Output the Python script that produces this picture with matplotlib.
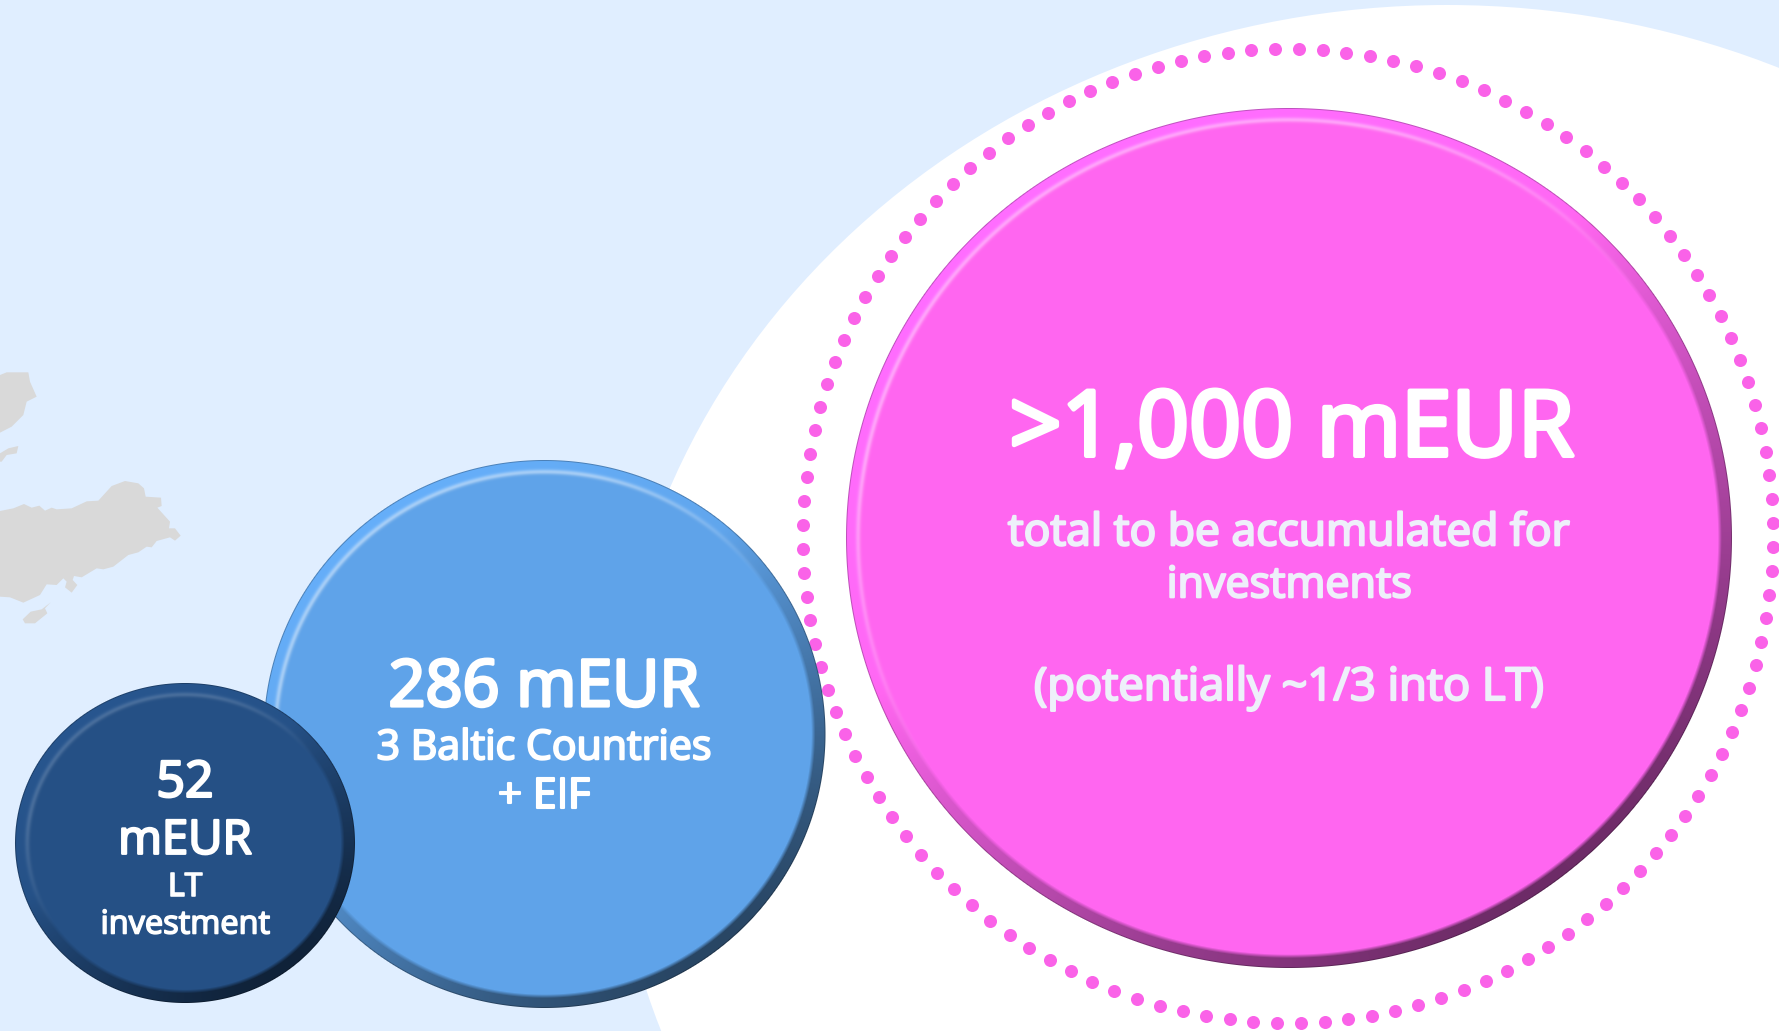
import numpy as np
import matplotlib
matplotlib.use("Agg")
import matplotlib.pyplot as plt
import matplotlib.patheffects as pe
from matplotlib.patches import Ellipse, Polygon

W = 1779
H = 1031

# chart content
big_value = ">1,000 mEUR"
big_lines = ["total to be accumulated for", "investments", "(potentially ~1/3 into LT)"]
mid_value = "286 mEUR"
mid_lines = ["3 Baltic Countries", "+ EIF"]
small_value = ["52", "mEUR"]
small_lines = ["LT", "investment"]

map_main = [(0,513),(40,505),(72,492),(95,503),(118,497),(135,512),(155,503),(170,508),(215,505),
            (260,484),(295,482),(335,438),(375,423),(415,430),(432,445),(437,470),(483,473),(485,498),
            (472,503),(510,545),(507,565),(525,565),(542,587),(525,602),(510,592),(470,603),(455,622),
            (440,620),(415,637),(385,645),(340,680),(310,688),(290,685),(245,712),(222,708),(218,720),
            (232,735),(215,758),(195,742),(200,725),(190,715),(170,735),(140,733),(120,765),(70,788),
            (30,772),(0,770)]
map_island = [(152,787),(135,805),(142,820),(105,850),(75,850),(68,838),(92,815),(125,808)]
map_north = [(0,105),(20,97),(85,97),(90,125),(110,170),(80,185),(70,225),(35,260),(0,278)]
map_small = [(0,340),(25,325),(55,318),(50,340),(20,345),(5,365),(0,365)]

bg_col = "#E0EEFF"
pink = "#FF66F0"
blue = "#5FA3E9"
navy = "#255085"
grey = "#D9D9D9"


def bevel(ax, cx, cy, rx, ry, color, rim, hi_amount, zorder):
    # circle with a shaded rim, lit from the upper left
    x0, x1 = int(cx - rx - 2), int(cx + rx + 3)
    y0, y1 = int(cy - ry - 2), int(cy + ry + 3)
    xs, ys = np.meshgrid(np.arange(x0, x1) + 0.5, np.arange(y0, y1) + 0.5)
    nx = (xs - cx) / rx
    ny = (ys - cy) / ry
    rn = np.sqrt(nx ** 2 + ny ** 2)
    d = (1 - rn) * (rx + ry) / 2
    ang = np.arctan2(ny, nx)
    light = np.cos(ang - np.radians(-125))

    base = np.array(matplotlib.colors.to_rgb(color))
    img = np.ones(xs.shape + (4,))
    img[..., :3] = base

    rim_mask = np.clip((rim - d) / 4.0 + 0.5, 0, 1)[..., None]
    # dark on the side away from the light, a bit brighter on the lit side
    dark = np.clip(0.12 - 0.45 * light, 0.0, 0.6)[..., None]
    bright = np.clip(light, 0, 1)[..., None] * 0.07
    shaded = np.clip(base * (1 - dark) * (1 + bright), 0, 1)
    img[..., :3] = img[..., :3] * (1 - rim_mask) + shaded * rim_mask

    # thin bright line at the inner edge of the rim on the lit side
    hi = (np.exp(-((d - rim) / 2.5) ** 2) * np.clip(light * 1.4, 0, 1) * hi_amount)[..., None]
    img[..., :3] = img[..., :3] * (1 - hi) + hi

    # faint grey hairline on the outer edge
    edge = (np.clip(1.5 - d, 0, 1) * 0.25)[..., None]
    img[..., :3] = img[..., :3] * (1 - edge)

    img[..., 3] = np.clip(d + 0.5, 0, 1)
    ax.imshow(img, extent=(x0, x1, y1, y0), zorder=zorder, interpolation="nearest", aspect="auto")


fig = plt.figure(figsize=(W / 100, H / 100), dpi=100)
ax = fig.add_axes([0, 0, 1, 1])
ax.set_facecolor(bg_col)

# white halo behind the circles
ax.add_patch(Ellipse((1447, 770), 2 * 836, 2 * 765, fc="white", ec="none", zorder=1))

for outline in [map_main, map_island, map_north, map_small]:
    pts = [(x / 3, 340 + y / 3) for x, y in outline]
    ax.add_patch(Polygon(pts, closed=True, fc=grey, ec="none", zorder=2))

# dotted ring
t = np.linspace(0, 2 * np.pi, 128, endpoint=False) - 0.0268
ax.scatter(1288 + 485 * np.cos(t), 536 + 487 * np.sin(t), s=88, color="#FA62E8", lw=0, zorder=3)

bevel(ax, 1289, 538, 443, 430, pink, 12, 0.38, 4)
bevel(ax, 544.5, 734, 281, 274, blue, 12, 0.42, 5)
bevel(ax, 185, 843, 170, 160, navy, 12, 0.15, 6)

ax.set_xlim(0, W)
ax.set_ylim(H, 0)
ax.axis("off")

font = ["Open Sans", "DejaVu Sans"]
def label(x, y, s, size, color="white"):
    # the reference text is semibold, so thicken it a little
    ax.text(x, y, s, fontsize=size, color=color, ha="center", va="center", family=font, zorder=10,
            path_effects=[pe.withStroke(linewidth=size * 0.05, foreground=color)])

pale = "#EEF0FA"
label(1292, 432, big_value, 65.5)
label(1289, 534, big_lines[0], 32, pale)
label(1289, 586, big_lines[1], 31, pale)
label(1289, 688, big_lines[2], 32.6, pale)

label(544, 689, mid_value, 46.6)
label(544, 749, mid_lines[0], 29.6)
label(544, 797, mid_lines[1], 30.5)

label(185, 784, small_value[0], 36)
label(185, 841, small_value[1], 34)
label(185, 887, small_lines[0], 23)
label(185, 925, small_lines[1], 23.4)

fig.savefig("out.png", dpi=100, facecolor=bg_col)
